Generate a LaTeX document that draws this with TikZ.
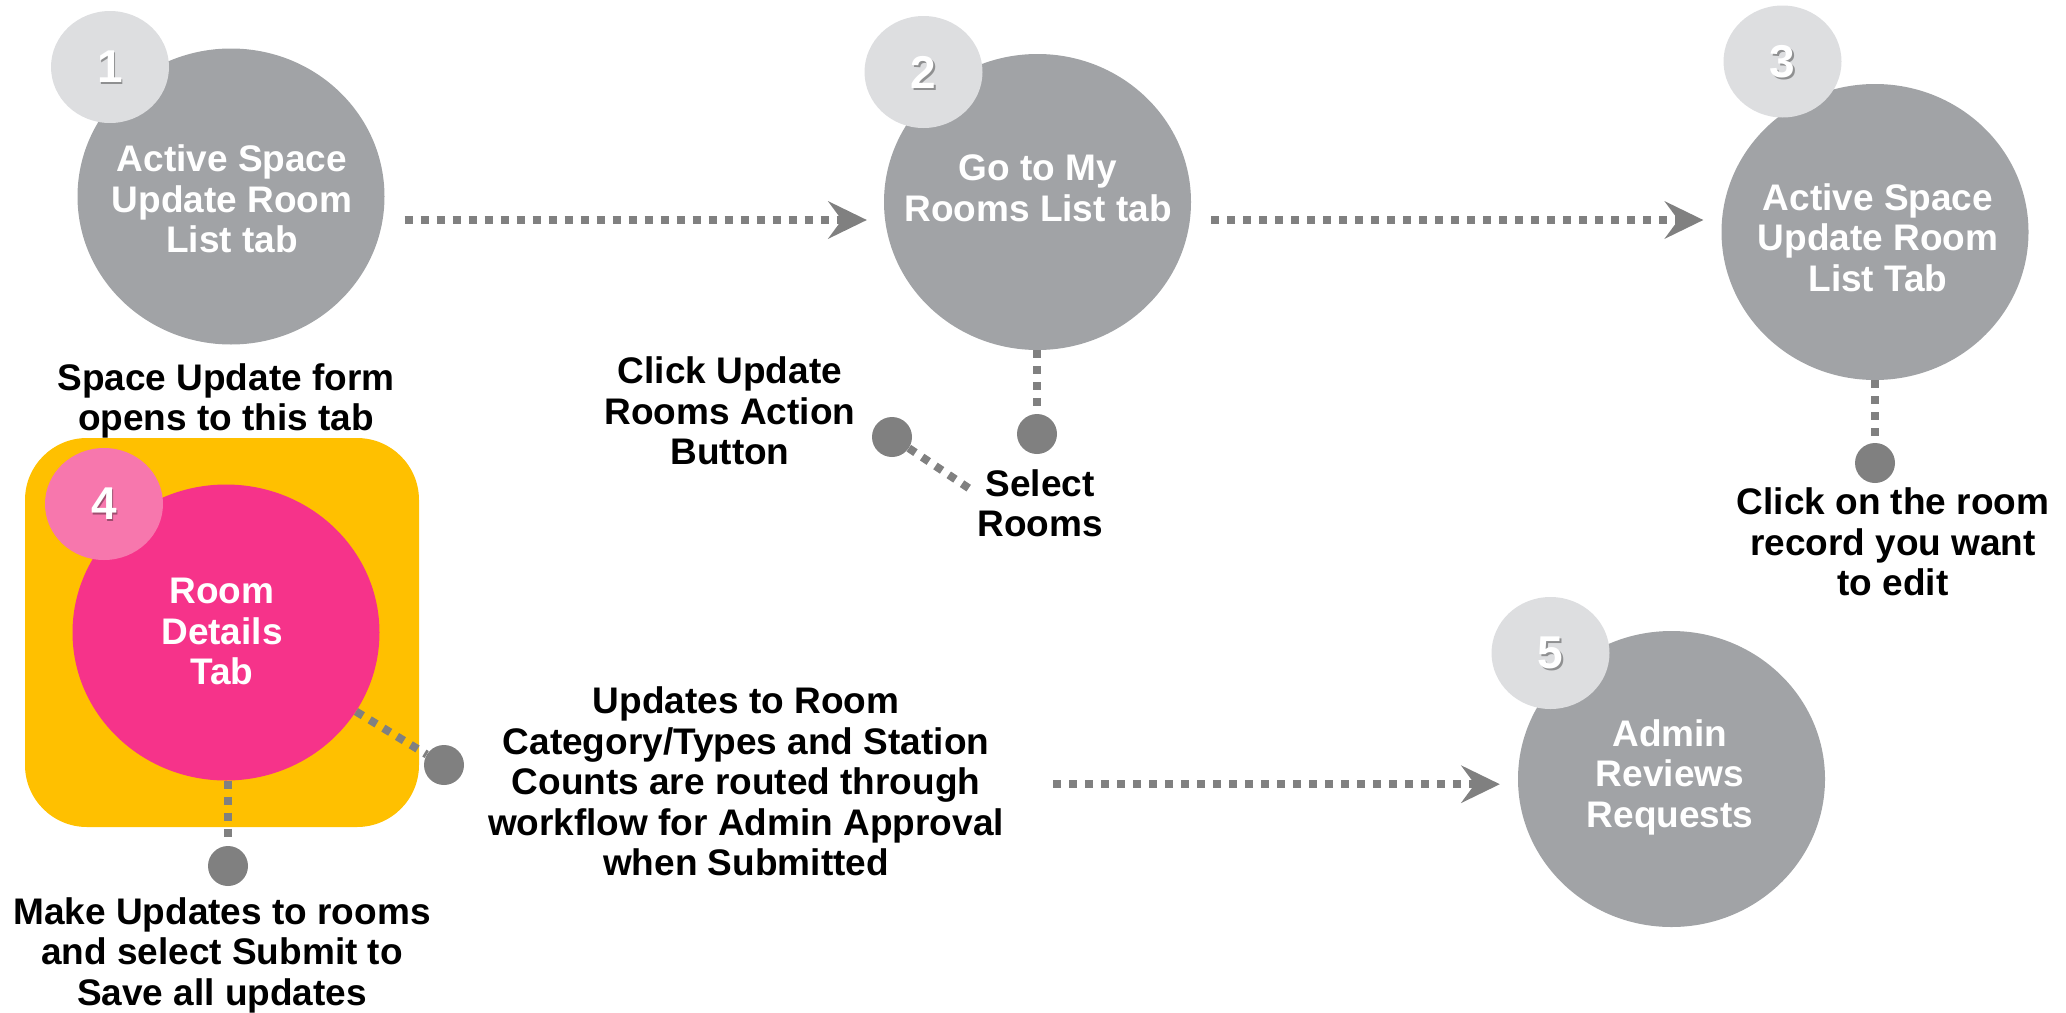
\documentclass[tikz,border=0pt]{standalone}
\usepackage{fontspec}
\setmainfont{Liberation Sans}
\usetikzlibrary{shapes.geometric,arrows.meta,calc}
\definecolor{stepgrey}{HTML}{A1A3A6}
\definecolor{badgegrey}{HTML}{DDDEE0}
\definecolor{linkgrey}{HTML}{808080}
\definecolor{hotpink}{HTML}{F6338A}
\definecolor{softpink}{HTML}{F777AD}
\definecolor{amber}{HTML}{FFC000}
\tikzset{
  stepcircle/.style={ellipse, fill=stepgrey, minimum width=307pt, minimum height=296pt, inner sep=0pt},
  badge/.style={ellipse, fill=badgegrey, minimum width=118pt, minimum height=112pt, inner sep=0pt},
  numtext/.style={text=white, inner sep=0pt, font=\fontsize{46}{50}\selectfont\bfseries},
  numshadow/.style={text=black, text opacity=0.35, inner sep=0pt, font=\fontsize{46}{50}\selectfont\bfseries},
  steptext/.style={text=white, align=center, inner sep=0pt,
    font=\fontsize{37}{40.5}\selectfont\bfseries,
    execute at begin node=\strut, execute at end node=\strut},
  note/.style={text=black, align=center, inner sep=0pt,
    font=\fontsize{37}{40.5}\selectfont\bfseries,
    execute at begin node=\strut, execute at end node=\strut},
  dotlink/.style={draw=linkgrey, line width=8pt, dash pattern=on 8pt off 8pt},
  flow/.style={dotlink, -{Stealth[length=39pt, width=38pt, inset=14pt, line width=0pt, fill=linkgrey]}},
  knob/.style={circle, fill=linkgrey, minimum size=40pt, inner sep=0pt},
  panel/.style={fill=amber, rounded corners=62pt, minimum width=394pt, minimum height=389pt, inner sep=0pt},
}
\begin{document}
\begin{tikzpicture}[x=1pt,y=-1pt]
\useasboundingbox (0,0) rectangle (2066,1012);

% highlight panel behind step 4
\node[panel] (box4) at (222,632.5) {};

% step circles
\node[stepcircle] (c1) at (231,196.5) {};
\node[stepcircle] (c2) at (1037.5,202) {};
\node[stepcircle] (c3) at (1875,232) {};
\node[stepcircle, fill=hotpink] (c4) at (226,632.5) {};
\node[stepcircle] (c5) at (1671.5,779) {};

% number badges
\node[badge] (b1) at (110,67) {};
\node[badge] (b2) at (923.5,72) {};
\node[badge] (b3) at (1782.5,61.5) {};
\node[badge, fill=softpink] (b4) at (104,504) {};
\node[badge] (b5) at (1550.5,653) {};
\foreach \k in {1,...,5}{
  \node[numshadow] (s\k) at ($(b\k)+(1.5,2)$) {\k};
  \node[numtext] (n\k) at (b\k) {\k};
}

% step titles
\node[steptext] (t1) at (232,205) {Active Space\\Update Room\\List tab};
\node[steptext] (t2) at (1038,194) {Go to My\\Rooms List tab};
\node[steptext] (t3) at (1878,243.5) {Active Space\\Update Room\\List Tab};
\node[steptext] (t4) at (222,637.5) {Room\\Details\\Tab};
\node[steptext] (t5) at (1670,779.5) {Admin\\Reviews\\Requests};

% callout knobs
\node[knob] (k2a) at (1037,434) {};
\node[knob] (k2b) at (892,437) {};
\node[knob] (k3) at (1875,463) {};
\node[knob] (k4a) at (228,866) {};
\node[knob] (k4b) at (444,765) {};

% callout leaders
\coordinate (e2) at (970,489);
\draw[dotlink, shorten >=7pt] (c2.south -| k2a) -- (k2a.north);
\draw[dotlink] (k2b) -- (e2);
\draw[dotlink, shorten >=7pt] (c3.south -| k3) -- (k3.north);
\draw[dotlink, shorten >=6pt] (c4.south -| k4a) -- (k4a.north);
\draw[dotlink] (c4) -- (k4b);

% notes
\node[note] (l1) at (226,403) {Space Update form\\opens to this tab};
\node[note] (l2) at (730,416.7) {Click Update\\Rooms Action\\Button};
\node[note] (l3) at (1040,509.4) {Select\\Rooms};
\node[note] (l4) at (1893,548) {Click on the room\\record you want\\to edit};
\node[note] (wf) at (746,787.2) {Updates to Room\\Category/Types and Station\\Counts are routed through\\workflow for Admin Approval\\when Submitted};
\node[note] (l5) at (222,957.4) {Make Updates to rooms\\and select Submit to\\Save all updates};

% flow arrows
\coordinate (row) at (0,220);
\draw[flow] ($(c1.east |- row)+(20,0)$) -- ($(c2.west |- row)+(-17,0)$);
\draw[flow] ($(c2.east |- row)+(20,0)$) -- ($(c3.west |- row)+(-18,0)$);
\draw[flow] ($(wf.east)+(49,-3)$) -- ($(c5.west |- wf.east)+(-18,-3)$);
\end{tikzpicture}
\end{document}
